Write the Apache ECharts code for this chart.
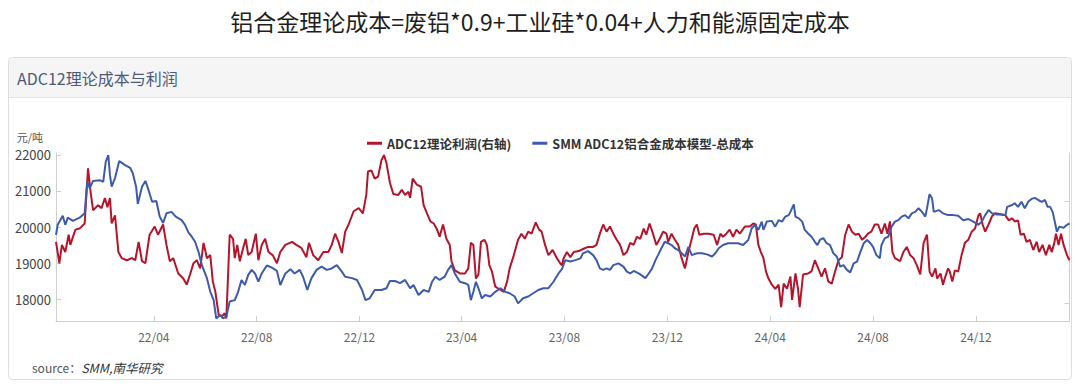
<!DOCTYPE html>
<html><head><meta charset="utf-8">
<script src="https://cdn.jsdelivr.net/npm/echarts@6/dist/echarts.min.js"></script>
<style>html,body{margin:0;padding:0;background:#fff}#c{width:1080px;height:387px}</style>
</head><body><div id="c"></div>
<script>
const costDates = ['2021-12-06','2021-12-08','2021-12-14','2021-12-17','2021-12-20','2021-12-26','2022-01-03','2022-01-09','2022-01-12','2022-01-15','2022-01-19','2022-01-27','2022-01-31','2022-02-03','2022-02-06','2022-02-08','2022-02-10','2022-02-14','2022-02-19','2022-02-26','2022-03-04','2022-03-07','2022-03-11','2022-03-13','2022-03-18','2022-03-22','2022-03-25','2022-03-30','2022-04-04','2022-04-08','2022-04-12','2022-04-16','2022-04-22','2022-04-27','2022-05-04','2022-05-08','2022-05-12','2022-05-16','2022-05-20','2022-05-24','2022-05-28','2022-06-03','2022-06-07','2022-06-11','2022-06-14','2022-06-19','2022-06-22','2022-06-26','2022-06-30','2022-07-06','2022-07-10','2022-07-14','2022-07-18','2022-07-22','2022-07-26','2022-07-30','2022-08-03','2022-08-07','2022-08-13','2022-08-19','2022-08-25','2022-08-29','2022-09-04','2022-09-10','2022-09-15','2022-09-21','2022-09-25','2022-09-30','2022-10-05','2022-10-11','2022-10-17','2022-10-23','2022-10-29','2022-11-04','2022-11-10','2022-11-14','2022-11-22','2022-11-28','2022-12-04','2022-12-08','2022-12-13','2022-12-19','2022-12-27','2023-01-02','2023-01-06','2023-01-12','2023-01-18','2023-01-24','2023-01-30','2023-02-03','2023-02-09','2023-02-15','2023-02-21','2023-02-25','2023-03-01','2023-03-06','2023-03-12','2023-03-16','2023-03-20','2023-03-24','2023-03-30','2023-04-05','2023-04-09','2023-04-12','2023-04-15','2023-04-18','2023-04-21','2023-04-25','2023-04-29','2023-05-05','2023-05-11','2023-05-17','2023-05-23','2023-05-28','2023-06-03','2023-06-07','2023-06-13','2023-06-19','2023-06-25','2023-07-01','2023-07-07','2023-07-13','2023-07-19','2023-07-25','2023-07-29','2023-08-02','2023-08-08','2023-08-14','2023-08-20','2023-08-23','2023-08-29','2023-09-04','2023-09-08','2023-09-12','2023-09-16','2023-09-20','2023-09-24','2023-09-28','2023-10-04','2023-10-10','2023-10-14','2023-10-18','2023-10-22','2023-10-28','2023-11-01','2023-11-05','2023-11-09','2023-11-13','2023-11-17','2023-11-20','2023-11-24','2023-11-28','2023-12-02','2023-12-06','2023-12-10','2023-12-14','2023-12-18','2023-12-22','2023-12-26','2023-12-30','2024-01-05','2024-01-11','2024-01-17','2024-01-23','2024-01-27','2024-01-31','2024-02-05','2024-02-11','2024-02-17','2024-02-23','2024-02-29','2024-03-06','2024-03-10','2024-03-14','2024-03-18','2024-03-22','2024-03-24','2024-03-28','2024-04-03','2024-04-07','2024-04-11','2024-04-15','2024-04-19','2024-04-23','2024-04-25','2024-04-29','2024-05-01','2024-05-05','2024-05-09','2024-05-12','2024-05-16','2024-05-20','2024-05-24','2024-05-27','2024-05-30','2024-06-03','2024-06-07','2024-06-11','2024-06-15','2024-06-19','2024-06-23','2024-06-27','2024-07-01','2024-07-05','2024-07-09','2024-07-13','2024-07-17','2024-07-21','2024-07-25','2024-07-29','2024-08-01','2024-08-05','2024-08-09','2024-08-11','2024-08-15','2024-08-19','2024-08-23','2024-08-27','2024-08-31','2024-09-04','2024-09-08','2024-09-12','2024-09-16','2024-09-20','2024-09-24','2024-09-28','2024-10-02','2024-10-04','2024-10-07','2024-10-10','2024-10-12','2024-10-18','2024-10-23','2024-10-29','2024-11-04','2024-11-10','2024-11-16','2024-11-22','2024-11-28','2024-12-04','2024-12-08','2024-12-12','2024-12-16','2024-12-20','2024-12-26','2025-01-01','2025-01-05','2025-01-07','2025-01-13','2025-01-16','2025-01-20','2025-01-24','2025-01-28','2025-02-01','2025-02-05','2025-02-09','2025-02-13','2025-02-17','2025-02-21','2025-02-24','2025-02-27','2025-03-02','2025-03-05','2025-03-07','2025-03-10','2025-03-15','2025-03-19','2025-03-22'];
const costValues = [19780,20060,20310,20060,20260,20170,20260,20380,21260,21080,21280,21300,21250,21810,22000,21440,21120,21360,21830,21720,21640,21500,21120,20640,21120,21280,21080,20700,20720,20290,20110,20380,20420,20290,20190,20060,19850,19730,19590,19310,18940,18580,18200,17970,17460,17560,17460,17510,17930,17970,18200,18530,18390,18670,18810,18710,18480,18710,18930,18870,18780,18390,18710,18830,18710,18810,18620,18250,18580,18810,18900,18810,18850,18940,18760,18620,18580,18530,18250,17970,18020,18250,18250,18300,18500,18500,18440,18530,18300,18390,18110,18250,18200,18480,18620,18530,18620,18810,18940,18710,18480,18440,18390,17970,18200,18480,18300,18020,18110,18070,18200,18300,18200,18160,18070,17880,18020,18070,18160,18250,18300,18300,18480,18710,18830,19080,19040,19080,19130,19270,19330,19220,19080,18850,18810,18850,18810,18940,18990,18900,18760,18710,18780,18710,18650,18580,18710,18850,19080,19220,19410,19590,19550,19500,19410,19360,19270,19180,19450,19220,19270,19270,19240,19180,19270,19410,19500,19550,19550,19550,19500,19640,19960,20060,19920,20150,19920,20150,20170,20010,20190,20150,20290,20330,20420,20630,20290,20240,20150,19920,19820,19730,19590,19500,19640,19690,19550,19500,19270,19180,18900,18940,18810,18740,18990,19040,19310,19550,19640,19550,19450,19220,19130,19500,19690,19730,20010,20150,20190,20290,20330,20240,20380,20420,20520,20420,20290,20520,20910,20800,20420,20470,20380,20330,20330,20310,20190,20220,20150,20060,20150,20330,20470,20380,20350,20350,20330,20560,20610,20660,20560,20700,20520,20700,20780,20810,20750,20700,20750,20560,20560,20420,20100,19870,20010,19980,20060,20100];
const profitDates = ['2021-12-06','2021-12-10','2021-12-13','2021-12-17','2021-12-21','2021-12-23','2021-12-29','2022-01-03','2022-01-09','2022-01-13','2022-01-16','2022-01-19','2022-01-25','2022-01-29','2022-02-02','2022-02-05','2022-02-08','2022-02-10','2022-02-14','2022-02-18','2022-02-22','2022-02-28','2022-03-06','2022-03-10','2022-03-14','2022-03-18','2022-03-22','2022-03-27','2022-04-02','2022-04-06','2022-04-12','2022-04-16','2022-04-20','2022-04-24','2022-04-30','2022-05-06','2022-05-10','2022-05-14','2022-05-18','2022-05-22','2022-05-26','2022-05-30','2022-06-03','2022-06-07','2022-06-10','2022-06-13','2022-06-17','2022-06-21','2022-06-24','2022-06-26','2022-06-30','2022-07-04','2022-07-06','2022-07-09','2022-07-12','2022-07-16','2022-07-19','2022-07-22','2022-07-26','2022-07-31','2022-08-03','2022-08-07','2022-08-11','2022-08-15','2022-08-20','2022-08-25','2022-08-29','2022-09-04','2022-09-12','2022-09-17','2022-09-23','2022-09-29','2022-10-02','2022-10-07','2022-10-13','2022-10-19','2022-10-25','2022-10-29','2022-11-02','2022-11-06','2022-11-10','2022-11-14','2022-11-18','2022-11-24','2022-11-30','2022-12-05','2022-12-09','2022-12-11','2022-12-15','2022-12-19','2022-12-23','2022-12-27','2022-12-30','2023-01-02','2023-01-06','2023-01-10','2023-01-16','2023-01-20','2023-01-24','2023-01-28','2023-01-30','2023-02-02','2023-02-07','2023-02-12','2023-02-15','2023-02-19','2023-02-23','2023-02-27','2023-03-03','2023-03-06','2023-03-10','2023-03-14','2023-03-18','2023-03-20','2023-03-24','2023-03-30','2023-04-05','2023-04-09','2023-04-12','2023-04-15','2023-04-18','2023-04-21','2023-04-24','2023-04-28','2023-05-01','2023-05-04','2023-05-07','2023-05-11','2023-05-15','2023-05-21','2023-05-25','2023-05-28','2023-06-02','2023-06-07','2023-06-11','2023-06-15','2023-06-19','2023-06-23','2023-06-28','2023-07-02','2023-07-05','2023-07-09','2023-07-13','2023-07-18','2023-07-23','2023-07-27','2023-07-29','2023-07-31','2023-08-04','2023-08-08','2023-08-12','2023-08-18','2023-08-23','2023-08-29','2023-09-04','2023-09-08','2023-09-12','2023-09-16','2023-09-20','2023-09-24','2023-09-28','2023-10-02','2023-10-06','2023-10-10','2023-10-14','2023-10-18','2023-10-22','2023-10-26','2023-10-30','2023-11-03','2023-11-06','2023-11-10','2023-11-14','2023-11-18','2023-11-22','2023-11-26','2023-11-30','2023-12-02','2023-12-06','2023-12-10','2023-12-14','2023-12-18','2023-12-22','2023-12-26','2023-12-30','2024-01-02','2024-01-05','2024-01-08','2024-01-13','2024-01-19','2024-01-25','2024-01-29','2024-02-02','2024-02-05','2024-02-09','2024-02-13','2024-02-17','2024-02-21','2024-02-25','2024-03-02','2024-03-08','2024-03-12','2024-03-15','2024-03-18','2024-03-21','2024-03-24','2024-03-27','2024-03-30','2024-04-03','2024-04-07','2024-04-11','2024-04-14','2024-04-17','2024-04-21','2024-04-25','2024-04-27','2024-05-01','2024-05-04','2024-05-06','2024-05-10','2024-05-16','2024-05-20','2024-05-24','2024-05-28','2024-06-01','2024-06-05','2024-06-09','2024-06-13','2024-06-17','2024-06-21','2024-06-25','2024-06-29','2024-07-03','2024-07-07','2024-07-11','2024-07-15','2024-07-19','2024-07-23','2024-07-26','2024-07-30','2024-08-03','2024-08-07','2024-08-11','2024-08-15','2024-08-18','2024-08-21','2024-08-24','2024-08-27','2024-08-31','2024-09-02','2024-09-06','2024-09-10','2024-09-14','2024-09-18','2024-09-22','2024-09-26','2024-09-30','2024-10-04','2024-10-07','2024-10-10','2024-10-14','2024-10-16','2024-10-20','2024-10-23','2024-10-25','2024-10-29','2024-10-31','2024-11-03','2024-11-06','2024-11-10','2024-11-14','2024-11-18','2024-11-22','2024-11-26','2024-11-30','2024-12-04','2024-12-06','2024-12-09','2024-12-12','2024-12-16','2024-12-20','2024-12-24','2024-12-30','2025-01-05','2025-01-09','2025-01-13','2025-01-16','2025-01-20','2025-01-23','2025-01-27','2025-01-30','2025-02-03','2025-02-07','2025-02-11','2025-02-14','2025-02-18','2025-02-22','2025-02-26','2025-03-01','2025-03-04','2025-03-06','2025-03-09','2025-03-12','2025-03-15','2025-03-19','2025-03-22'];
const profitValues = [600,390,570,500,670,570,720,730,780,1320,1090,910,960,930,1030,940,1030,780,860,500,440,420,440,420,600,410,390,670,750,670,770,570,410,440,290,240,180,280,390,420,340,590,440,470,210,110,-120,-130,-100,-150,670,630,440,570,410,540,630,470,500,680,420,570,630,500,470,390,500,570,600,570,540,450,590,470,420,500,500,570,680,600,490,700,770,900,930,880,1060,1290,1300,1220,1240,1400,1450,1370,1180,1070,1060,1110,1060,1090,1030,1220,1160,1140,960,880,800,780,720,650,770,630,570,410,320,290,290,340,590,570,240,280,600,620,570,370,310,160,140,110,210,340,470,620,680,630,700,680,790,720,700,570,470,520,440,390,370,440,500,450,500,510,530,550,550,570,680,770,700,750,680,620,570,470,500,590,570,650,630,730,670,780,680,570,630,700,680,600,680,620,570,440,340,500,630,730,770,670,680,680,670,570,680,650,680,720,650,720,680,750,750,780,770,570,500,440,310,240,180,140,180,-40,190,140,260,30,290,140,-40,280,290,310,420,340,260,340,210,190,310,420,450,670,770,700,670,680,620,650,680,700,770,770,680,780,680,800,500,440,420,410,500,550,470,440,370,280,590,670,310,260,340,240,290,180,240,340,310,210,320,310,470,590,620,700,730,860,880,770,700,770,850,880,870,860,810,830,800,810,670,680,600,620,520,600,500,570,470,570,500,590,680,570,680,570,470,420];
const xTickDates = ['2022-04-01','2022-08-01','2022-12-01','2023-04-01','2023-08-01','2023-12-01','2024-04-01','2024-08-01','2024-12-01'];
const leftTicks = [18000, 19000, 20000, 21000, 22000];
const rightTicks = [0, 1000];
const seriesNames = ['ADC12理论利润(右轴)', 'SMM ADC12铝合金成本模型-总成本'];

function ts(s) { const p = s.split('-').map(Number); return new Date(p[0], p[1] - 1, p[2]).getTime(); }
const profitData = profitDates.map((d, i) => [ts(d), profitValues[i]]);
const costData = costDates.map((d, i) => [ts(d), costValues[i]]);
const FONT = '"Noto Sans CJK SC", "Noto Sans", sans-serif';

const chart = echarts.init(document.getElementById('c'), null, { renderer: 'svg' });
chart.setOption({
  animation: false,
  textStyle: { fontFamily: FONT },
  title: {
    text: '铝合金理论成本=废铝*0.9+工业硅*0.04+人力和能源固定成本',
    left: 'center', top: 4,
    textStyle: { fontSize: 23, fontWeight: 'normal', color: '#1e1e1e', fontFamily: FONT }
  },
  graphic: [
    { type: 'rect', z: -10, silent: true, shape: { x: 8.5, y: 57.5, width: 1063, height: 322, r: 4 },
      style: { fill: '#fff', stroke: '#dedede', lineWidth: 1 } },
    { type: 'rect', z: -9, silent: true, shape: { x: 9, y: 58, width: 1062, height: 39, r: [4, 4, 0, 0] },
      style: { fill: '#f5f5f5' } },
    { type: 'line', z: -9, silent: true, shape: { x1: 9, y1: 97.5, x2: 1071, y2: 97.5 },
      style: { stroke: '#e3e3e3', lineWidth: 1 } },
    { type: 'text', z: -8, silent: true, x: 17, y: 78,
      style: { text: 'ADC12理论成本与利润', fontSize: 16, fill: '#4c5a78', verticalAlign: 'middle', fontFamily: FONT } },
    { type: 'text', z: -8, silent: true, x: 32, y: 367,
      style: { text: '{a|source：}{b|SMM,南华研究}', verticalAlign: 'middle', fontFamily: FONT,
        rich: { a: { fontSize: 12, fill: '#555', fontFamily: FONT }, b: { fontSize: 12.5, fill: '#333', fontStyle: 'italic', fontFamily: FONT } } } }
  ],
  legend: {
    data: seriesNames, left: 362, top: 132, itemGap: 21, itemWidth: 15, itemHeight: 3, icon: 'rect',
    textStyle: { fontSize: 12.5, fontWeight: 'bold', color: '#333', fontFamily: FONT }
  },
  grid: { left: 56, right: 10.5, top: 153, bottom: 66 },
  xAxis: {
    type: 'value', min: ts('2021-12-06'), max: ts('2025-03-22'),
    axisLine: { onZero: false, lineStyle: { color: '#cfcfcf' } },
    axisTick: { show: true, inside: true, length: 5, customValues: xTickDates.map(ts), lineStyle: { color: '#cfcfcf' } },
    axisLabel: { customValues: xTickDates.map(ts), color: '#666', fontSize: 12, margin: 9,
      formatter: v => { const d = new Date(v); return String(d.getFullYear()).slice(2) + '/' + String(d.getMonth() + 1).padStart(2, '0'); } },
    splitLine: { show: false }
  },
  yAxis: [
    { type: 'value', position: 'left', min: 17390, max: 22055,
      name: '元/吨', nameLocation: 'end', nameGap: 11,
      nameTextStyle: { fontSize: 11, color: '#555', align: 'right', padding: [0, 13, 0, 0] },
      axisLine: { show: true, onZero: false, lineStyle: { color: '#cfcfcf' } },
      axisTick: { show: true, inside: true, length: 5, customValues: leftTicks, lineStyle: { color: '#cfcfcf' } },
      axisLabel: { customValues: leftTicks, color: '#444', fontSize: 13, margin: 5, formatter: v => String(v) },
      splitLine: { show: false } },
    { type: 'value', position: 'right', min: -176, max: 1471,
      axisLine: { show: true, onZero: false, lineStyle: { color: '#cfcfcf' } },
      axisTick: { show: true, inside: true, length: 5, customValues: rightTicks, lineStyle: { color: '#cfcfcf' } },
      axisLabel: { show: false },
      splitLine: { show: false } }
  ],
  series: [
    { name: seriesNames[0], type: 'line', yAxisIndex: 1, data: profitData, showSymbol: false, symbol: 'none',
      lineStyle: { width: 2, color: '#b5152b' }, itemStyle: { color: '#b5152b' } },
    { name: seriesNames[1], type: 'line', yAxisIndex: 0, data: costData, showSymbol: false, symbol: 'none',
      lineStyle: { width: 2, color: '#3e5bab' }, itemStyle: { color: '#3e5bab' } }
  ]
});
</script>
</body></html>
